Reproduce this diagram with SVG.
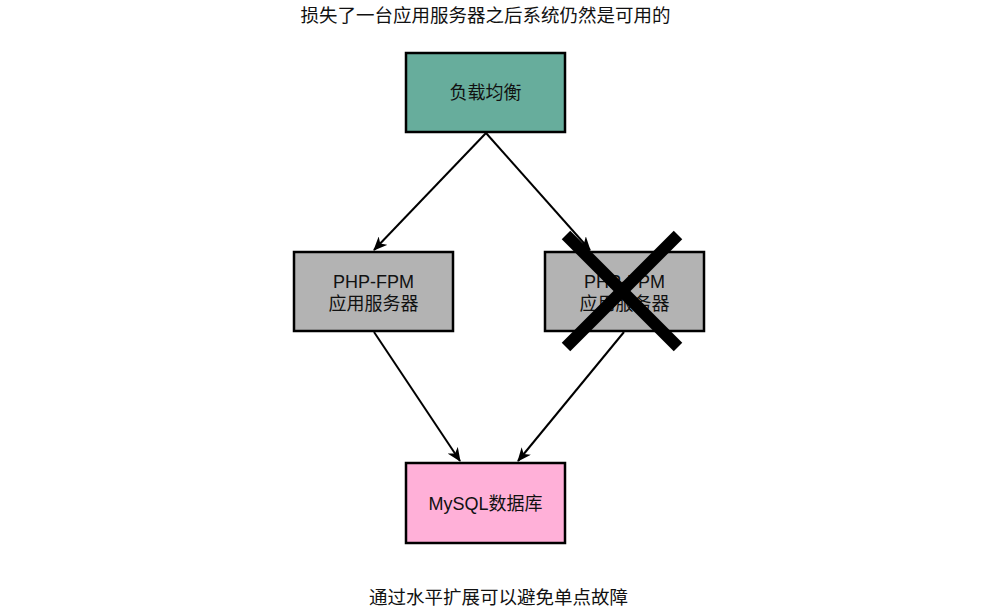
<svg xmlns="http://www.w3.org/2000/svg" width="1007" height="609" viewBox="0 0 1007 609">
<style>
.box{stroke:#000;stroke-width:2.5}
.lbl{font-family:"Liberation Sans","Noto Sans CJK SC",sans-serif;font-size:18px;fill:#111;text-anchor:middle}
.cap{font-family:"Liberation Sans","Noto Sans CJK SC",sans-serif;font-size:18.5px;fill:#111;text-anchor:middle}
.edge{stroke:#000;stroke-width:2;fill:none;marker-end:url(#arr)}
</style>
<defs>
<marker id="arr" viewBox="0 0 14 12" refX="13" refY="6" markerWidth="14" markerHeight="12" markerUnits="userSpaceOnUse" orient="auto">
<path d="M0,0 L14,6 L0,12 L4,6 z" fill="#000"/>
</marker>
</defs>
<rect width="1007" height="609" fill="#fff"/>
<text class="cap" x="485.5" y="22">损失了一台应用服务器之后系统仍然是可用的</text>
<g id="connectors">
<line class="edge" x1="486" y1="133" x2="374" y2="250"/>
<line class="edge" x1="486" y1="133" x2="590" y2="250"/>
<line class="edge" x1="374" y1="332" x2="460" y2="461"/>
<line class="edge" x1="624" y1="332" x2="518" y2="461"/>
</g>
<g id="lb">
<rect class="box" x="406" y="53" width="159" height="79" fill="#67AD9C"/>
<text class="lbl" x="485.5" y="99">负载均衡</text>
</g>
<g id="app1">
<rect class="box" x="294" y="252" width="159" height="79" fill="#B3B3B3"/>
<text class="lbl" x="373.5" y="288">PHP-FPM</text>
<text class="lbl" x="373.5" y="310">应用服务器</text>
</g>
<g id="app2">
<rect class="box" x="545" y="252" width="159" height="79" fill="#B3B3B3"/>
<text class="lbl" x="624.5" y="288">PHP-FPM</text>
<text class="lbl" x="624.5" y="310">应用服务器</text>
</g>
<g id="db">
<rect class="box" x="406" y="463" width="159" height="80" fill="#FFB0D8"/>
<text class="lbl" x="485.5" y="510">MySQL数据库</text>
</g>
<g id="cross" stroke="#000" stroke-width="12">
<line x1="566" y1="235" x2="678" y2="347"/>
<line x1="678" y1="235" x2="566" y2="347"/>
</g>
<text class="cap" x="498.5" y="604">通过水平扩展可以避免单点故障</text>
</svg>
